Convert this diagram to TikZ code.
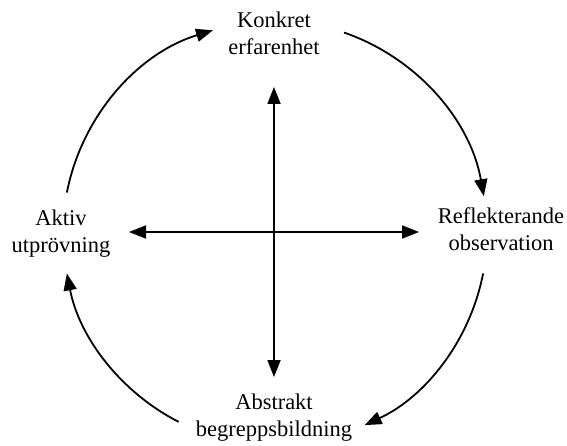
\documentclass[tikz,border=0pt]{standalone}
\usepackage{fontspec}
\setmainfont{Liberation Serif}
\usetikzlibrary{arrows.meta}

\begin{document}
\begin{tikzpicture}[x=1pt,y=1pt,
    label/.style={align=center, inner sep=0pt,
      font=\fontsize{22.5}{27}\selectfont},
    flow/.style={line width=1.8pt, -{Triangle[length=17pt,width=13pt]}},
    axis/.style={line width=1.8pt,
      {Triangle[length=17pt,width=13pt]}-{Triangle[length=17pt,width=13pt]}}]
  \useasboundingbox (0,0) rectangle (567,445);

  % the four stages of the cycle
  \node[label] (konkret)  at (274,412) {Konkret\\erfarenhet};
  \node[label] (reflekt)  at (501,216) {Reflekterande\\observation};
  \node[label] (abstrakt) at (274,27)  {Abstrakt\\begreppsbildning};
  \node[label] (aktiv)    at (61,211)  {Aktiv\\utprövning};

  % centre of the cycle and ends of the cross
  \coordinate (c) at (275,212);
  \coordinate (top)    at (274,358);
  \coordinate (bottom) at (274,68);
  \coordinate (left)   at (129,213);
  \coordinate (right)  at (419,213);

  % the cross
  \draw[axis] (bottom) -- (top);
  \draw[axis] (left) -- (right);

  % the cycle arcs
  \draw[flow] ([shift={(169:212)}]c) arc[start angle=169, end angle=107, radius=212];
  \draw[flow] ([shift={(71:212)}]c)  arc[start angle=71,  end angle=10,  radius=212];
  \draw[flow] ([shift={(-11:212)}]c) arc[start angle=-11, end angle=-65, radius=212];
  \draw[flow] ([shift={(243:212)}]c) arc[start angle=243, end angle=191, radius=212];
\end{tikzpicture}
\end{document}
